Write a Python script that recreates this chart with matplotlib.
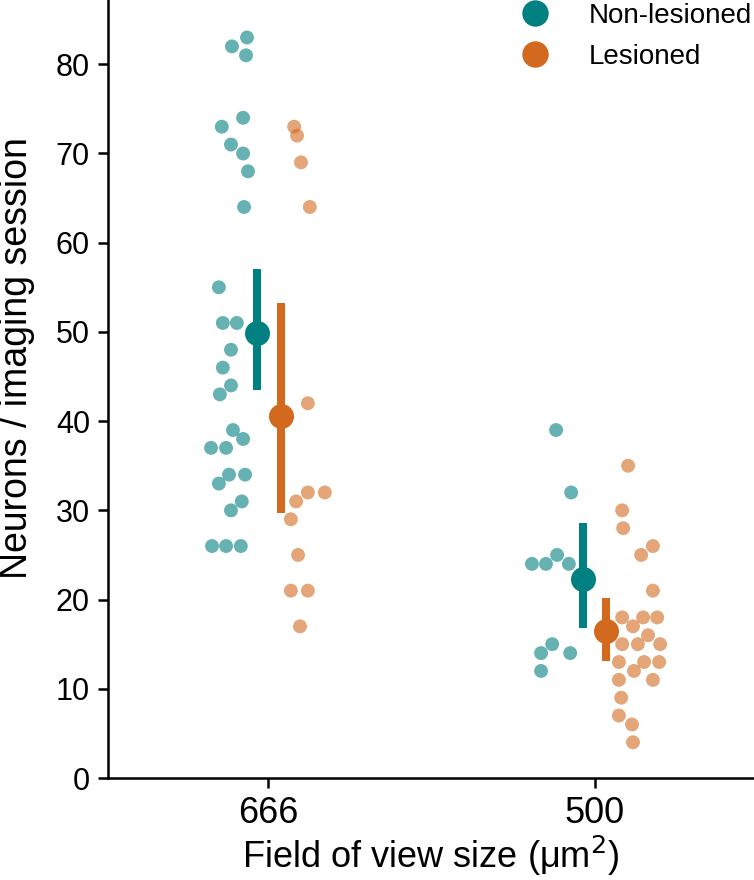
import matplotlib
matplotlib.use("Agg")
import matplotlib.pyplot as plt
from matplotlib.lines import Line2D

plt.rcParams['font.family'] = ['Liberation Sans', 'DejaVu Sans']

categories = ["666", "500"]
groups = ["Non-lesioned", "Lesioned"]
colors = {"Non-lesioned": "#008080", "Lesioned": "#d2691e"}

# individual sessions (neurons / imaging session)
nonles_666 = [83, 82, 81, 74, 73, 71, 70, 68, 64, 55, 51, 51, 48, 46, 44, 43, 39, 38,
              37, 37, 34, 34, 33, 31, 30, 26, 26, 26]
nonles_666_jit = [-0.064, -0.110, -0.067, -0.076, -0.141, -0.113, -0.076, -0.061, -0.073,
                  -0.150, -0.138, -0.095, -0.113, -0.138, -0.113, -0.147, -0.107, -0.076,
                  -0.174, -0.128, -0.119, -0.070, -0.150, -0.080, -0.113, -0.171, -0.128, -0.083]
les_666 = [73, 72, 69, 64, 42, 32, 32, 31, 29, 25, 21, 21, 17]
les_666_jit = [0.080, 0.089, 0.101, 0.128, 0.122, 0.122, 0.174, 0.086, 0.070, 0.092,
               0.070, 0.122, 0.098]
nonles_500 = [39, 32, 25, 24, 24, 24, 15, 14, 14, 12]
nonles_500_jit = [-0.119, -0.073, -0.116, -0.193, -0.150, -0.080, -0.131, -0.165, -0.076, -0.165]
les_500 = [35, 30, 28, 26, 25, 21, 18, 18, 18, 17, 16, 15, 15, 15, 13, 13, 13, 12, 11, 11,
           9, 7, 6, 4]
les_500_jit = [0.101, 0.083, 0.086, 0.177, 0.141, 0.177, 0.083, 0.147, 0.190, 0.116, 0.162,
               0.083, 0.131, 0.199, 0.073, 0.150, 0.196, 0.119, 0.073, 0.177, 0.080, 0.073,
               0.113, 0.116]

# means and confidence intervals
nonles_mean = [49.9, 22.3]
nonles_ci_low = [43.5, 16.8]
nonles_ci_high = [57.1, 28.6]
les_mean = [40.6, 16.5]
les_ci_low = [29.7, 13.1]
les_ci_high = [53.2, 20.2]
mean_dodge = {"Non-lesioned": [-0.034, -0.037], "Lesioned": [0.040, 0.034]}

W, H = 754, 880
fig = plt.figure(figsize=(W / 100, H / 100), dpi=100)
ax = fig.add_axes([108 / W, 102 / H, (W - 108) / W, (H - 102) / H])

points = {
    "Non-lesioned": [(nonles_666, nonles_666_jit), (nonles_500, nonles_500_jit)],
    "Lesioned": [(les_666, les_666_jit), (les_500, les_500_jit)],
}
stats = {
    "Non-lesioned": (nonles_mean, nonles_ci_low, nonles_ci_high),
    "Lesioned": (les_mean, les_ci_low, les_ci_high),
}

for g in groups:
    for ci, (vals, jit) in enumerate(points[g]):
        xs = [ci + j for j in jit]
        ax.scatter(xs, vals, s=100, color=colors[g], alpha=0.6, edgecolors='none', zorder=2)
for g in groups:
    m, lo, hi = stats[g]
    for ci in range(len(categories)):
        x = ci + mean_dodge[g][ci]
        ax.plot([x, x], [lo[ci], hi[ci]], color=colors[g], lw=5.8, solid_capstyle='butt', zorder=3)
        ax.plot([x], [m[ci]], 'o', color=colors[g], ms=18, mec='none', zorder=4)

ax.set_xlim(-0.489, 1.486)
ax.set_ylim(0, 87.2)
ax.set_xticks(range(len(categories)))
ax.set_xticklabels(categories)
ax.set_yticks(range(0, 81, 10))
ax.tick_params(axis='x', labelsize=26, length=7, width=1.8, pad=6)
ax.tick_params(axis='y', labelsize=22, length=7, width=1.8, pad=6)
for s in ['top', 'right']:
    ax.spines[s].set_visible(False)
for s in ['left', 'bottom']:
    ax.spines[s].set_linewidth(1.8)
ax.set_xlabel("Field of view size (μm$^2$)", fontsize=26, labelpad=2)
ax.set_ylabel("Neurons / imaging session", fontsize=27)
ax.yaxis.set_label_coords(-0.113, 0.54)

handles = [Line2D([], [], marker='o', ls='none', color=colors[g], ms=19, mec='none') for g in groups]
ax.legend(handles, groups, loc='upper right', bbox_to_anchor=(1.036, 1.0286), frameon=False,
          fontsize=20, handletextpad=0.95, labelspacing=0.55)

fig.savefig("out.png", dpi=100)
